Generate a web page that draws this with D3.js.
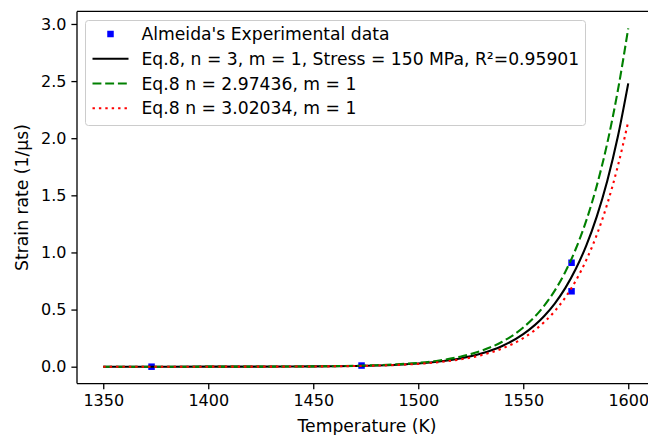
<!DOCTYPE html>
<html><head><meta charset="utf-8">
<script src="https://cdn.jsdelivr.net/npm/d3@7"></script>
<style>body{margin:0;background:#fff}svg{display:block}text{font-family:"DejaVu Sans",sans-serif;fill:#000}</style>
</head><body>
<script>
// Experimental data
const expT = [1373, 1473, 1573, 1573];
const expRate = [0.0, 0.01, 0.91, 0.66];
// Curve temperatures (K)
const curveT = [1350, 1380, 1400, 1420, 1440, 1450, 1460, 1470, 1480, 1490, 1500, 1510, 1520, 1530, 1540, 1550, 1560, 1565, 1570, 1575, 1580, 1585, 1590, 1595, 1600];
// Eq.8, n = 3
const blackRate = [0.00001, 0.00005, 0.00016, 0.0005, 0.0014, 0.0024, 0.0040, 0.0066, 0.0107, 0.0175, 0.0283, 0.0454, 0.0725, 0.1150, 0.1814, 0.2845, 0.4435, 0.5528, 0.6878, 0.8546, 1.0605, 1.314, 1.626, 2.010, 2.48];
// Eq.8 n = 2.97436
const greenRate = [0.00001, 0.00006, 0.0002, 0.0006, 0.0017, 0.0029, 0.0048, 0.0079, 0.0129, 0.0210, 0.0340, 0.0547, 0.0874, 0.1386, 0.2186, 0.3428, 0.5344, 0.666, 0.8288, 1.030, 1.278, 1.583, 1.956, 2.413, 2.962];
// Eq.8 n = 3.02034
const redRate = [0.00001, 0.00004, 0.00014, 0.0004, 0.0012, 0.0021, 0.0035, 0.0058, 0.0094, 0.0154, 0.0249, 0.0400, 0.0638, 0.1012, 0.1596, 0.2504, 0.3903, 0.4865, 0.6053, 0.752, 0.933, 1.153, 1.424, 1.753, 2.146];
const xTicks = [1350, 1400, 1450, 1500, 1550, 1600];
const yTicks = [0.0, 0.5, 1.0, 1.5, 2.0, 2.5, 3.0];
const legendLabels = ["Almeida's Experimental data", "Eq.8, n = 3, m = 1, Stress = 150 MPa, R²=0.95901", "Eq.8 n = 2.97436, m = 1", "Eq.8 n = 3.02034, m = 1"];

const W = 648, H = 435;
const L = 77, T = 11.4, PW = 577.5, PH = 372.2;
const svg = d3.select("body").append("svg").attr("width", W).attr("height", H);
const x = d3.scaleLinear().domain([1337.5, 1612.5]).range([L, L + PW]);
const y = d3.scaleLinear().domain([-0.148, 3.110]).range([T + PH, T]);

svg.append("clipPath").attr("id", "c").append("rect").attr("x", L).attr("y", T).attr("width", PW).attr("height", PH);
const g = svg.append("g").attr("clip-path", "url(#c)");

// data markers
const ms = 6.5;
g.selectAll("rect.pt").data(expT.map((t, i) => [t, expRate[i]])).enter().append("rect")
  .attr("x", d => x(d[0]) - ms / 2).attr("y", d => y(d[1]) - ms / 2)
  .attr("width", ms).attr("height", ms).attr("fill", "#0000ff");

const line = (arr) => d3.line().x((d, i) => x(curveT[i])).y(d => y(d)).curve(d3.curveMonotoneX)(arr);
const styles = [
  {data: blackRate, color: "#000000", dash: null},
  {data: greenRate, color: "#008000", dash: "8.9,3.8"},
  {data: redRate, color: "#ff0000", dash: "2.4,4"}
];
styles.forEach(s => {
  g.append("path").attr("d", line(s.data)).attr("fill", "none").attr("stroke", s.color)
    .attr("stroke-width", 2.1).attr("stroke-dasharray", s.dash);
});

// axes
const fs = 17.2, tfs = 16;
const xa = svg.append("g").attr("transform", `translate(0,${T + PH})`)
  .call(d3.axisBottom(x).tickValues(xTicks).tickSize(5.6).tickPadding(5).tickFormat(d3.format("d")));
const ya = svg.append("g").attr("transform", `translate(${L},0)`)
  .call(d3.axisLeft(y).tickValues(yTicks).tickSize(5.6).tickPadding(5).tickFormat(d3.format(".1f")));
[xa, ya].forEach(a => {
  a.select(".domain").remove();
  a.selectAll("line").attr("stroke", "#000").attr("stroke-width", 1.3);
  a.selectAll("text").attr("font-size", tfs).attr("font-family", "DejaVu Sans").attr("fill", "#000");
});
// spines (right spine is outside the picture)
svg.append("path").attr("d", `M${L},${T}H${L + PW}M${L},${T}V${T + PH}M${L},${T + PH}H${L + PW}`)
  .attr("stroke", "#000").attr("stroke-width", 1.3).attr("fill", "none");

svg.append("text").attr("x", 367).attr("y", 432).attr("text-anchor", "middle").attr("font-size", fs).text("Temperature (K)");
svg.append("text").attr("transform", `translate(28,${T + PH / 2}) rotate(-90)`).attr("text-anchor", "middle").attr("font-size", fs).text("Strain rate (1/μs)");

// legend
const lg = svg.append("g");
lg.append("rect").attr("x", 85.5).attr("y", 20.5).attr("width", 500).attr("height", 105).attr("rx", 3)
  .attr("fill", "#fff").attr("fill-opacity", 0.8).attr("stroke", "#cccccc").attr("stroke-width", 1);
const rows = [34, 58.8, 83.5, 108.2];
legendLabels.forEach((lab, i) => {
  const yy = rows[i];
  if (i === 0) {
    lg.append("rect").attr("x", 110.5 - ms / 2).attr("y", yy - ms / 2).attr("width", ms).attr("height", ms).attr("fill", "#0000ff");
  } else {
    const s = styles[i - 1];
    lg.append("line").attr("x1", 92.5).attr("x2", 128.5).attr("y1", yy).attr("y2", yy)
      .attr("stroke", s.color).attr("stroke-width", 2.1).attr("stroke-dasharray", s.dash);
  }
  lg.append("text").attr("x", 141.5).attr("y", yy).attr("dy", "0.35em").attr("font-size", fs).text(lab);
});
</script>
</body></html>
